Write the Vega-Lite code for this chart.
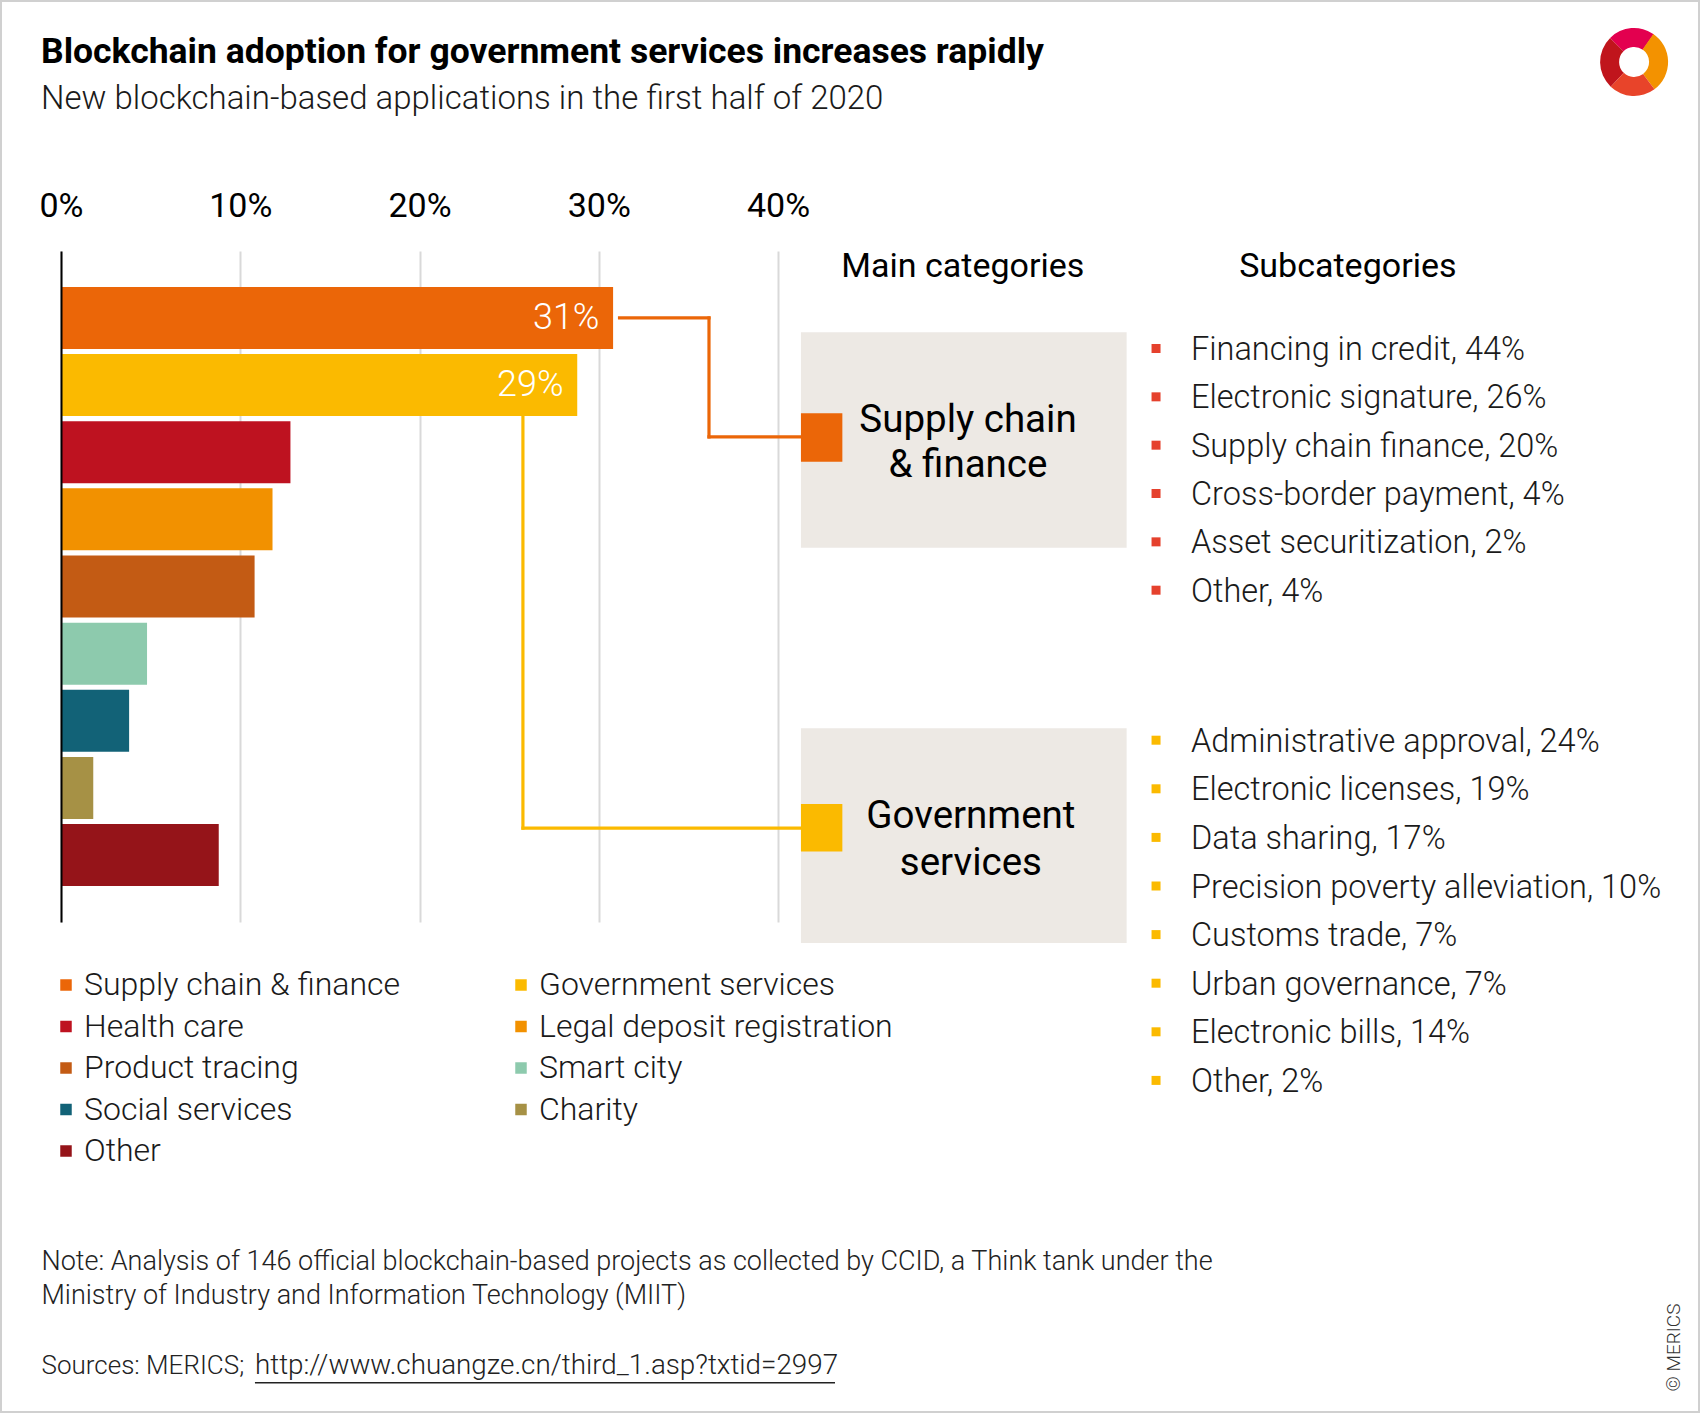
{
  "$schema": "https://vega.github.io/schema/vega-lite/v6.json",
  "width": 717,
  "height": 671,
  "autosize": {"type": "none"},
  "padding": {"left": 61, "top": 251, "right": 922, "bottom": 491},
  "background": "white",
  "config": {"view": {"stroke": null}, "font": "Roboto"},
  "title": {
    "text": "Blockchain adoption for government services increases rapidly",
    "subtitle": "New blockchain-based applications in the first half of 2020",
    "anchor": "start",
    "frame": "group",
    "dx": -20,
    "offset": -116,
    "font": "Roboto",
    "fontSize": 35.5,
    "fontWeight": "bold",
    "color": "#000000",
    "subtitleFont": "Roboto",
    "subtitleFontSize": 33,
    "subtitleFontWeight": 300,
    "subtitleColor": "#1a1a1a",
    "subtitlePadding": 12.5
  },
  "datasets": {
    "categories": [
      {"category": "Supply chain & finance", "share": 0.308},
      {"category": "Government services", "share": 0.288},
      {"category": "Health care", "share": 0.128},
      {"category": "Legal deposit registration", "share": 0.118},
      {"category": "Product tracing", "share": 0.108},
      {"category": "Smart city", "share": 0.048},
      {"category": "Social services", "share": 0.038},
      {"category": "Charity", "share": 0.018},
      {"category": "Other", "share": 0.088}
    ],
    "subcategories": [
      {"group": "Supply chain & finance", "label": "Financing in credit, 44%", "share": 0.44},
      {"group": "Supply chain & finance", "label": "Electronic signature, 26%", "share": 0.26},
      {"group": "Supply chain & finance", "label": "Supply chain finance, 20%", "share": 0.20},
      {"group": "Supply chain & finance", "label": "Cross-border payment, 4%", "share": 0.04},
      {"group": "Supply chain & finance", "label": "Asset securitization, 2%", "share": 0.02},
      {"group": "Supply chain & finance", "label": "Other, 4%", "share": 0.04},
      {"group": "Government services", "label": "Administrative approval, 24%", "share": 0.24},
      {"group": "Government services", "label": "Electronic licenses, 19%", "share": 0.19},
      {"group": "Government services", "label": "Data sharing, 17%", "share": 0.17},
      {"group": "Government services", "label": "Precision poverty alleviation, 10%", "share": 0.10},
      {"group": "Government services", "label": "Customs trade, 7%", "share": 0.07},
      {"group": "Government services", "label": "Urban governance, 7%", "share": 0.07},
      {"group": "Government services", "label": "Electronic bills, 14%", "share": 0.14},
      {"group": "Government services", "label": "Other, 2%", "share": 0.02}
    ]
  },
  "layer": [
    {
      "data": {"name": "categories"},
      "layer": [
        {
          "mark": {"type": "bar"},
          "encoding": {
            "y": {
              "field": "category", "type": "nominal",
              "scale": {
                "domain": ["Supply chain & finance", "Government services", "Health care", "Legal deposit registration", "Product tracing", "Smart city", "Social services", "Charity", "Other"],
                "paddingInner": 0.077, "paddingOuter": 0.535
              },
              "axis": {"title": null, "labels": false, "ticks": false, "grid": false, "domain": true, "domainColor": "#000000", "domainWidth": 2, "zindex": 1}
            },
            "x": {
              "field": "share", "type": "quantitative",
              "scale": {"domain": [0, 0.4], "nice": false, "zero": true},
              "axis": {
                "orient": "top", "values": [0, 0.1, 0.2, 0.3, 0.4], "format": ".0%",
                "grid": true, "gridColor": "#d9d9d9", "gridWidth": 2,
                "domain": false, "ticks": false, "tickSize": 0,
                "labelPadding": 34.5, "labelBaseline": "alphabetic",
                "labelFontSize": 34, "labelColor": "#000000", "labelFont": "Roboto", "labelFontWeight": 400,
                "labelFlush": false, "labelOverlap": false, "title": null, "zindex": 0
              }
            },
            "color": {
              "field": "category", "type": "nominal",
              "scale": {
                "domain": ["Supply chain & finance", "Government services", "Health care", "Legal deposit registration", "Product tracing", "Smart city", "Social services", "Charity", "Other"],
                "range": ["#eb6608", "#fbba00", "#be1220", "#f29100", "#c35b14", "#8dcaad", "#126277", "#a69145", "#951419"]
              },
              "legend": {
                "orient": "none", "legendX": -11, "legendY": 718,
                "direction": "horizontal", "columns": 2, "columnPadding": 104, "rowPadding": 9.5,
                "symbolType": "square", "symbolSize": 132, "symbolStrokeWidth": 0, "symbolOpacity": 1,
                "labelFont": "Roboto", "labelFontSize": 32, "labelFontWeight": 300, "labelColor": "#1a1a1a",
                "labelOffset": 2, "labelLimit": 600, "title": null, "padding": 0
              }
            }
          }
        },
        {
          "transform": [{"filter": "datum.share > 0.2"}],
          "mark": {"type": "text", "align": "right", "baseline": "middle", "dx": -13.6, "color": "#ffffff", "fontSize": 36, "fontWeight": 300, "font": "Roboto"},
          "encoding": {
            "y": {"field": "category", "type": "nominal"},
            "x": {"field": "share", "type": "quantitative"},
            "text": {"field": "share", "type": "quantitative", "format": ".0%"}
          }
        }
      ]
    },
    {
      "data": {"values": [{}]},
      "layer": [
        {
          "mark": {"type": "rect", "color": "#ede9e4"},
          "encoding": {
            "x": {"datum": 0.4128, "type": "quantitative"},
            "x2": {"datum": 0.5945},
            "y": {"datum": 1.212, "type": "quantitative", "axis": null, "scale": {"domain": [0, 10], "reverse": true, "nice": false, "zero": false}},
            "y2": {"datum": 4.422}
          }
        },
        {
          "mark": {"type": "rect", "color": "#ede9e4"},
          "encoding": {
            "x": {"datum": 0.4128, "type": "quantitative"},
            "x2": {"datum": 0.5945},
            "y": {"datum": 7.112, "type": "quantitative", "axis": null},
            "y2": {"datum": 10.313}
          }
        },
        {
          "mark": {"type": "rule", "color": "#eb6608", "strokeWidth": 3.2, "strokeCap": "square"},
          "encoding": {
            "x": {"datum": 0.3116, "type": "quantitative"},
            "x2": {"datum": 0.3615},
            "y": {"datum": 0.998, "type": "quantitative", "axis": null}
          }
        },
        {
          "mark": {"type": "rule", "color": "#eb6608", "strokeWidth": 3.2, "strokeCap": "square"},
          "encoding": {
            "x": {"datum": 0.3615, "type": "quantitative"},
            "y": {"datum": 0.998, "type": "quantitative", "axis": null},
            "y2": {"datum": 2.771}
          }
        },
        {
          "mark": {"type": "rule", "color": "#eb6608", "strokeWidth": 3.2, "strokeCap": "square"},
          "encoding": {
            "x": {"datum": 0.3615, "type": "quantitative"},
            "x2": {"datum": 0.4128},
            "y": {"datum": 2.771, "type": "quantitative", "axis": null}
          }
        },
        {
          "mark": {"type": "rule", "color": "#fbba00", "strokeWidth": 3.2, "strokeCap": "square"},
          "encoding": {
            "x": {"datum": 0.2577, "type": "quantitative"},
            "y": {"datum": 2.47, "type": "quantitative", "axis": null},
            "y2": {"datum": 8.602}
          }
        },
        {
          "mark": {"type": "rule", "color": "#fbba00", "strokeWidth": 3.2, "strokeCap": "square"},
          "encoding": {
            "x": {"datum": 0.2577, "type": "quantitative"},
            "x2": {"datum": 0.4128},
            "y": {"datum": 8.602, "type": "quantitative", "axis": null}
          }
        },
        {
          "mark": {"type": "rect", "color": "#eb6608"},
          "encoding": {
            "x": {"datum": 0.4128, "type": "quantitative"},
            "x2": {"datum": 0.4359},
            "y": {"datum": 2.419, "type": "quantitative", "axis": null},
            "y2": {"datum": 3.14}
          }
        },
        {
          "mark": {"type": "rect", "color": "#fbba00"},
          "encoding": {
            "x": {"datum": 0.4128, "type": "quantitative"},
            "x2": {"datum": 0.4359},
            "y": {"datum": 8.243, "type": "quantitative", "axis": null},
            "y2": {"datum": 8.948}
          }
        },
        {
          "mark": {"type": "text", "text": "Main categories", "align": "center", "baseline": "alphabetic", "fontSize": 34, "fontWeight": 400, "color": "#000000"},
          "encoding": {
            "x": {"datum": 0.5031, "type": "quantitative"},
            "y": {"datum": 0.386, "type": "quantitative", "axis": null}
          }
        },
        {
          "mark": {"type": "text", "text": "Subcategories", "align": "center", "baseline": "alphabetic", "fontSize": 34, "fontWeight": 400, "color": "#000000"},
          "encoding": {
            "x": {"datum": 0.7179, "type": "quantitative"},
            "y": {"datum": 0.386, "type": "quantitative", "axis": null}
          }
        },
        {
          "mark": {"type": "text", "text": ["Supply chain", "& finance"], "align": "center", "baseline": "alphabetic", "lineHeight": 45.6, "fontSize": 38.5, "fontWeight": 400, "color": "#000000"},
          "encoding": {
            "x": {"datum": 0.506, "type": "quantitative"},
            "y": {"datum": 2.693, "type": "quantitative", "axis": null}
          }
        },
        {
          "mark": {"type": "text", "text": ["Government", "services"], "align": "center", "baseline": "alphabetic", "lineHeight": 46.5, "fontSize": 38.5, "fontWeight": 400, "color": "#000000"},
          "encoding": {
            "x": {"datum": 0.5076, "type": "quantitative"},
            "y": {"datum": 8.602, "type": "quantitative", "axis": null}
          }
        },
        {
          "mark": {"type": "text", "text": ["Note: Analysis of 146 official blockchain-based projects as collected by CCID, a Think tank under the", "Ministry of Industry and Information Technology (MIIT)"], "align": "left", "baseline": "alphabetic", "lineHeight": 34, "fontSize": 27, "fontWeight": 300, "color": "#222222"},
          "encoding": {
            "x": {"datum": -0.01088, "type": "quantitative"},
            "y": {"datum": 15.186, "type": "quantitative", "axis": null}
          }
        },
        {
          "mark": {"type": "text", "text": "Sources: MERICS;", "align": "left", "baseline": "alphabetic", "fontSize": 26, "fontWeight": 300, "color": "#222222"},
          "encoding": {
            "x": {"datum": -0.01088, "type": "quantitative"},
            "y": {"datum": 16.729, "type": "quantitative", "axis": null}
          }
        },
        {
          "mark": {"type": "text", "text": "http://www.chuangze.cn/third_1.asp?txtid=2997", "align": "left", "baseline": "alphabetic", "fontSize": 27.8, "fontWeight": 300, "color": "#222222"},
          "encoding": {
            "x": {"datum": 0.1082, "type": "quantitative"},
            "y": {"datum": 16.729, "type": "quantitative", "axis": null}
          }
        },
        {
          "mark": {"type": "rule", "color": "#222222", "strokeWidth": 1.5},
          "encoding": {
            "x": {"datum": 0.1082, "type": "quantitative"},
            "x2": {"datum": 0.4318},
            "y": {"datum": 16.865, "type": "quantitative", "axis": null}
          }
        },
        {
          "mark": {"type": "text", "text": "© MERICS", "align": "center", "baseline": "middle", "angle": 270, "fontSize": 19, "fontWeight": 300, "color": "#333333"},
          "encoding": {
            "x": {"datum": 0.8997, "type": "quantitative"},
            "y": {"datum": 16.341, "type": "quantitative", "axis": null}
          }
        },
        {
          "mark": {"type": "arc", "radius": 34, "radius2": 15, "theta": 3.9, "theta2": 5.5, "color": "#c0151c"},
          "encoding": {
            "x": {"datum": 0.8776, "type": "quantitative"},
            "y": {"datum": -2.817, "type": "quantitative", "axis": null}
          }
        },
        {
          "mark": {"type": "arc", "radius": 34, "radius2": 15, "theta": 5.5, "theta2": 6.9, "color": "#e3004f"},
          "encoding": {
            "x": {"datum": 0.8776, "type": "quantitative"},
            "y": {"datum": -2.817, "type": "quantitative", "axis": null}
          }
        },
        {
          "mark": {"type": "arc", "radius": 34, "radius2": 15, "theta": 0.6, "theta2": 2.5, "color": "#f39200"},
          "encoding": {
            "x": {"datum": 0.8776, "type": "quantitative"},
            "y": {"datum": -2.817, "type": "quantitative", "axis": null}
          }
        },
        {
          "mark": {"type": "arc", "radius": 34, "radius2": 15, "theta": 2.5, "theta2": 3.9, "color": "#e8442a"},
          "encoding": {
            "x": {"datum": 0.8776, "type": "quantitative"},
            "y": {"datum": -2.817, "type": "quantitative", "axis": null}
          }
        },
        {
          "mark": {"type": "rect", "fill": null, "fillOpacity": 0, "stroke": "#d0d0d0", "strokeWidth": 2},
          "encoding": {
            "x": {"datum": -0.03347, "type": "quantitative"},
            "x2": {"datum": 0.9138},
            "y": {"datum": -3.726, "type": "quantitative", "axis": null},
            "y2": {"datum": 17.303}
          }
        }
      ]
    },
    {
      "data": {"name": "subcategories"},
      "transform": [{"filter": "datum.group == 'Supply chain & finance'"}],
      "layer": [
        {
          "mark": {"type": "square", "size": 81, "yOffset": -11.5, "opacity": 1, "color": "#e5412d", "filled": true},
          "encoding": {
            "x": {"datum": 0.6109, "type": "quantitative"},
            "y": {"field": "label", "type": "nominal", "axis": null,
                  "scale": {"type": "point", "domain": ["Financing in credit, 44%", "Electronic signature, 26%", "Supply chain finance, 20%", "Cross-border payment, 4%", "Asset securitization, 2%", "Other, 4%"], "range": [109, 350.7], "padding": 0}}
          }
        },
        {
          "mark": {"type": "text", "align": "left", "baseline": "alphabetic", "fontSize": 32.5, "fontWeight": 300, "color": "#1a1a1a"},
          "encoding": {
            "x": {"datum": 0.6304, "type": "quantitative"},
            "y": {"field": "label", "type": "nominal", "axis": null},
            "text": {"field": "label", "type": "nominal"}
          }
        }
      ]
    },
    {
      "data": {"name": "subcategories"},
      "transform": [{"filter": "datum.group == 'Government services'"}],
      "layer": [
        {
          "mark": {"type": "square", "size": 81, "yOffset": -11.5, "opacity": 1, "color": "#fbba00", "filled": true},
          "encoding": {
            "x": {"datum": 0.6109, "type": "quantitative"},
            "y": {"field": "label", "type": "nominal", "axis": null,
                  "scale": {"type": "point", "domain": ["Administrative approval, 24%", "Electronic licenses, 19%", "Data sharing, 17%", "Precision poverty alleviation, 10%", "Customs trade, 7%", "Urban governance, 7%", "Electronic bills, 14%", "Other, 2%"], "range": [500.7, 840.9], "padding": 0}}
          }
        },
        {
          "mark": {"type": "text", "align": "left", "baseline": "alphabetic", "fontSize": 32.5, "fontWeight": 300, "color": "#1a1a1a"},
          "encoding": {
            "x": {"datum": 0.6304, "type": "quantitative"},
            "y": {"field": "label", "type": "nominal", "axis": null},
            "text": {"field": "label", "type": "nominal"}
          }
        }
      ]
    }
  ],
  "resolve": {"scale": {"y": "independent"}}
}
